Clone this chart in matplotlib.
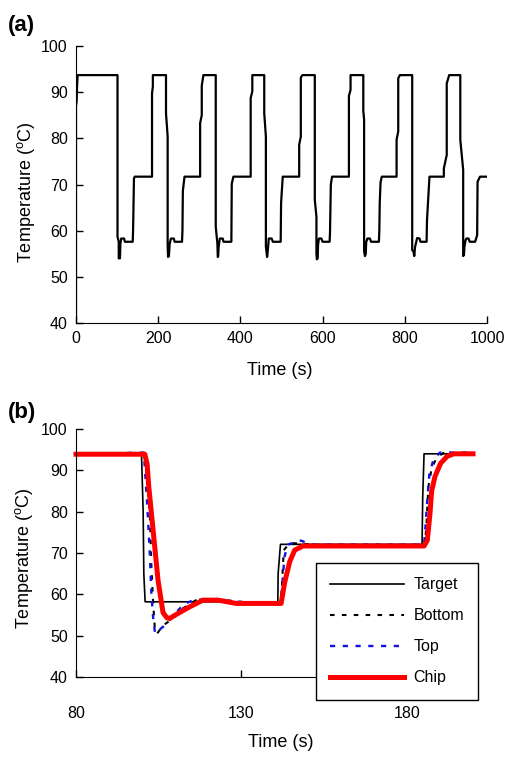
import matplotlib
matplotlib.use("Agg")
import matplotlib.pyplot as plt

plt.rcParams["font.family"] = ["Liberation Sans", "DejaVu Sans"]
plt.rcParams["mathtext.fontset"] = "custom"
plt.rcParams["mathtext.rm"] = "Liberation Sans"

# ---------- (a) full thermal cycling trace ----------
time_a = [
    0, 0, 1.5, 2.5, 4, 101,
    101, 104, 104, 107, 108, 110, 117, 119, 138, 139, 141, 143, 185,
    185, 187, 187, 219,
    219, 223, 223, 224, 226, 228, 231, 238, 240, 258, 259, 260, 264, 302,
    302, 306, 306, 310, 340,
    340, 344, 345, 346, 347, 350, 357, 359, 378, 379, 383, 425,
    425, 429, 429, 458,
    458, 462, 462, 465, 467, 469, 476, 479, 498, 499, 503, 543,
    543, 547, 547, 551, 581,
    581, 585, 585, 586, 588, 589, 591, 597, 600, 617, 618, 620, 623, 664,
    664, 668, 668, 699,
    699, 701, 701, 703, 705, 706, 709, 715, 718, 737, 738, 739, 741, 744, 780,
    780, 784, 784, 788, 818,
    818, 821, 823, 825, 830, 836, 838, 853, 854, 860, 895,
    895, 902, 902, 908, 935,
    935, 942, 942, 944, 945, 948, 950, 955, 958, 971, 976, 977, 983, 1000,
]
temp_a = [
    40, 87, 88, 91, 93.7, 93.7,
    58.7, 57.6, 54, 54, 57.2, 58.3, 58.3, 57.6, 57.6, 60.5, 71.3, 71.7, 71.7,
    89.8, 91.2, 93.7, 93.7,
    85.4, 80.4, 56.9, 54.3, 54.5, 57.2, 58.3, 58.3, 57.6, 57.6, 60, 68.6, 71.7, 71.7,
    83.3, 85, 91.4, 93.7, 93.7,
    60.9, 57.2, 54.3, 54.5, 56.5, 58.3, 58.3, 57.6, 57.6, 70.2, 71.7, 71.7,
    88.7, 90.2, 93.7, 93.7,
    85.4, 80.4, 56.5, 54.3, 56, 58.3, 58.3, 57.6, 57.6, 66, 71.7, 71.7,
    78.6, 80.4, 93.2, 93.7, 93.7,
    66.7, 63, 55, 53.8, 54, 57, 58.3, 58.3, 57.6, 57.6, 59.5, 70, 71.7, 71.7,
    89.2, 90.5, 93.7, 93.7,
    86, 84, 55.5, 54.5, 55, 57.5, 58.3, 58.3, 57.6, 57.6, 60, 66, 70.5, 71.7, 71.7,
    79.7, 81.5, 93, 93.7, 93.7,
    55.8, 55.5, 54.5, 56.5, 58.4, 58.3, 57.6, 57.6, 62.3, 71.7, 71.7,
    73.5, 76.4, 91.9, 93.7, 93.7,
    79.7, 73.2, 54.5, 54.8, 56.5, 58, 58.3, 58.3, 57.6, 57.6, 59, 70.6, 71.7, 71.7,
]

# ---------- (b) one cycle zoomed ----------
target_t = [80, 99.8, 100.3, 100.5, 100.9, 141, 141.1, 141.8, 184.6, 184.8, 185.2, 200]
target_T = [93.9, 93.9, 80, 65, 58.2, 58.2, 65, 72.1, 72.1, 83.6, 94, 94]

bottom_t = [80, 100.8, 102.3, 102.8, 103.3, 103.8, 104.5, 106.3, 109.3, 112.3, 116.3,
            121.4, 127.4, 133.4, 141.8, 142.1, 142.3, 142.8, 144.6, 148, 152,
            185.5, 186, 186.5, 187.5, 189, 191, 200]
bottom_T = [93.9, 93.9, 79.6, 66.7, 58.2, 52.1, 50.5, 52.5, 54.1, 56.6, 58.6,
            59.0, 58.4, 57.9, 57.9, 58, 63, 70.7, 72.4, 72.3, 72,
            72, 78, 86, 90.5, 93, 94.2, 94.2]

top_t = [80, 100.5, 101.5, 102.3, 102.8, 103.3, 103.9, 105, 107, 110, 113, 116, 121,
         127, 135, 141.8, 142.3, 143, 144, 146, 148, 150, 152,
         185.2, 185.6, 186.2, 186.8, 188, 190, 200]
top_T = [93.9, 94.3, 82, 70, 60, 54.5, 50.6, 51.3, 52.6, 55.5, 57.8, 58.7, 58.8,
         58.3, 57.9, 57.9, 62, 69, 72, 72.6, 73, 72.4, 72,
         72, 76, 83, 89, 92.5, 94.3, 94.3]

chip_t = [80, 100.8, 101.5, 102, 102.8, 104.8, 106.3, 107.5, 108.4, 110, 114.4, 118.4,
          123, 128.4, 142, 143.1, 144.6, 146.1, 148.6, 185.2, 186.2, 187, 187.5,
          188.5, 190.2, 192.2, 194.2, 200]
chip_T = [93.9, 93.9, 91.5, 86, 79.6, 63.4, 55.6, 54.3, 54.2, 55, 57, 58.6,
          58.6, 57.8, 57.8, 63, 67.9, 70.7, 71.7, 71.7, 73.1, 79.6, 85,
          88.5, 91.7, 93.4, 94, 94]

FS_TICK = 11.5
FS_LABEL = 13
ylabel = "Temperature ($^{\\rm o}$C)"

fig = plt.figure(figsize=(5.09, 7.62), dpi=100)


def style_axes(ax, xpad):
    ax.spines["top"].set_visible(False)
    ax.spines["right"].set_visible(False)
    ax.tick_params(direction="in", length=5, width=1, labelsize=FS_TICK)
    ax.tick_params(axis="x", pad=xpad)
    ax.tick_params(axis="y", pad=6)


# panel (a)
ax1 = fig.add_axes([0.1493, 0.5761, 0.8075, 0.3635])
ax1.plot(time_a, temp_a, color="black", lw=1.6)
ax1.set_xlim(0, 1000)
ax1.set_ylim(40, 100)
ax1.set_xticks([0, 200, 400, 600, 800, 1000])
ax1.set_yticks([40, 50, 60, 70, 80, 90, 100])
style_axes(ax1, 6)
ax1.set_xlabel("Time (s)", fontsize=FS_LABEL)
ax1.set_ylabel(ylabel, fontsize=FS_LABEL)
ax1.xaxis.set_label_coords(0.496, -0.14)
ax1.yaxis.set_label_coords(-0.095, 0.474)

# panel (b)
ax2 = fig.add_axes([0.1493, 0.1115, 0.78, 0.3255])
ax2.plot(target_t, target_T, color="black", lw=1.2, label="Target")
ax2.plot(bottom_t, bottom_T, color="black", lw=1.5, ls=(0, (2.2, 3.5)), label="Bottom")
ax2.plot(top_t, top_T, color="#1010e0", lw=1.7, ls=(0, (2.2, 3.2)), label="Top")
ax2.plot(chip_t, chip_T, color="#ff0000", lw=3.6, label="Chip", clip_on=False)
ax2.set_xlim(80, 200)
ax2.set_ylim(40, 100)
ax2.set_xticks([80, 130, 180])
ax2.set_yticks([40, 50, 60, 70, 80, 90, 100])
style_axes(ax2, 21)
ax2.set_xlabel("Time (s)", fontsize=FS_LABEL)
ax2.set_ylabel(ylabel, fontsize=FS_LABEL)
ax2.xaxis.set_label_coords(0.516, -0.23)
ax2.yaxis.set_label_coords(-0.103, 0.48)

leg = ax2.legend(loc="upper left", bbox_to_anchor=(0.6208, 0.2612),
                 bbox_transform=fig.transFigure, fontsize=FS_TICK,
                 handlelength=4.6, handletextpad=0.6, labelspacing=1.0,
                 borderpad=0.9, borderaxespad=0, fancybox=False, framealpha=1,
                 edgecolor="black")
leg.get_frame().set_linewidth(1.0)

fig.text(0.016, 0.967, "(a)", fontsize=16, fontweight="bold", va="center")
fig.text(0.016, 0.459, "(b)", fontsize=16, fontweight="bold", va="center")

fig.savefig("out.png", dpi=100)
